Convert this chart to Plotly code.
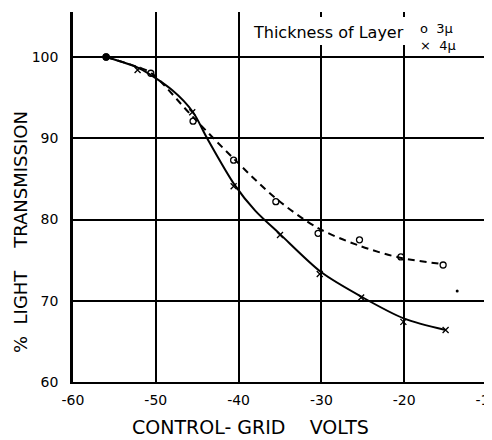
import plotly.graph_objects as go

x_3mu = [-56, -50.6, -45.5, -40.6, -35.5, -30.4, -25.4, -20.4, -15.3]
y_3mu = [100, 98.0, 92.1, 87.3, 82.2, 78.3, 77.5, 75.4, 74.4]

x_4mu = [-56, -52.2, -45.6, -40.6, -35.0, -30.2, -25.2, -20.1, -15.0]
y_4mu = [100, 98.4, 93.2, 84.1, 78.1, 73.3, 70.4, 67.4, 66.4]

# Hand-drawn fitted curves
curve_x_3mu = [-56, -52, -50.5, -45.5, -40.5, -35.5, -30.5, -25.5, -20.5, -15.3]
curve_y_3mu = [100, 98.7, 98.0, 92.6, 87.4, 82.6, 79.0, 76.8, 75.3, 74.5]

curve_x_4mu = [-56, -52, -48, -45.5, -43.8, -40.5, -38, -35, -30, -25, -20, -15]
curve_y_4mu = [100, 98.6, 95.9, 93.2, 90.0, 84.3, 81.1, 78.2, 73.5, 70.4, 67.8, 66.4]

x_stray = [-13.6]
y_stray = [71.2]

x_ticks = [-60, -50, -40, -30, -20, -10]
x_ticklabels = ["-60", "-50", "-40", "-30", "-20", "-10"]
y_ticks = [60, 70, 80, 90, 100]
y_ticklabels = ["60", "70", "80", "90", "100"]

FONT = "DejaVu Sans"

# plot area in viewport pixels (page body adds an 8px offset)
PX0, PX1, PY0, PY1 = 73, 487, 12, 382


def px(x):
    return (x - PX0) / (PX1 - PX0)


def py(y):
    return (PY1 - y) / (PY1 - PY0)


fig = go.Figure()

fig.add_trace(go.Scatter(
    x=curve_x_3mu, y=curve_y_3mu, mode="lines",
    line=dict(color="black", width=2, dash="7px,5px", shape="spline", smoothing=0.9),
    showlegend=False, hoverinfo="skip",
))
fig.add_trace(go.Scatter(
    x=curve_x_4mu, y=curve_y_4mu, mode="lines",
    line=dict(color="black", width=2, shape="spline", smoothing=0.8),
    showlegend=False, hoverinfo="skip",
))
fig.add_trace(go.Scatter(
    x=x_3mu, y=y_3mu, mode="markers",
    marker=dict(symbol=["circle"] + ["circle-open"] * (len(x_3mu) - 1), size=6,
                color="black", line=dict(color="black", width=1.3)),
    showlegend=False, hoverinfo="skip",
))
fig.add_trace(go.Scatter(
    x=x_4mu, y=y_4mu, mode="markers",
    marker=dict(symbol=["circle"] + ["x-thin"] * (len(x_4mu) - 1), size=6,
                color="black", line=dict(color="black", width=1.3)),
    showlegend=False, hoverinfo="skip",
))
fig.add_trace(go.Scatter(
    x=x_stray, y=y_stray, mode="markers",
    marker=dict(symbol="circle", size=3, color="black"),
    showlegend=False, hoverinfo="skip",
))

fig.update_layout(
    width=492, height=440,
    margin=dict(l=65, r=13, t=4, b=66, autoexpand=False),
    paper_bgcolor="white", plot_bgcolor="white",
    font=dict(family=FONT, size=14, color="black"),
    xaxis=dict(
        range=[-60, -10], tickvals=x_ticks, ticktext=x_ticklabels,
        showgrid=True, gridcolor="black", gridwidth=1.6,
        showline=True, linecolor="black", linewidth=2.2,
        ticks="", ticklabelstandoff=4, zeroline=False, automargin=False,
        ticklabeloverflow="allow",
        tickfont=dict(family=FONT, size=14, color="black"),
    ),
    yaxis=dict(
        range=[60, 105.54], tickvals=y_ticks, ticktext=y_ticklabels,
        showgrid=True, gridcolor="black", gridwidth=1.6,
        showline=True, linecolor="black", linewidth=2.5,
        ticks="", ticklabelstandoff=9, zeroline=False, automargin=False,
        tickfont=dict(family=FONT, size=14, color="black"),
    ),
    shapes=[
        dict(type="line", xref="x", yref="paper", x0=-10, x1=-10, y0=0, y1=1.0,
             line=dict(color="black", width=2.2)),
        dict(type="rect", xref="paper", yref="paper", layer="above",
             x0=px(250), x1=px(472), y0=py(45), y1=py(17),
             fillcolor="white", line=dict(width=0)),
    ],
    annotations=[
        dict(text="Thickness of Layer", xref="paper", yref="paper",
             x=px(251), y=py(32), xanchor="left", yanchor="middle",
             showarrow=False, font=dict(family=FONT, size=16, color="black")),
        dict(text="o  3μ", xref="paper", yref="paper",
             x=px(418), y=py(29), xanchor="left", yanchor="middle",
             showarrow=False, font=dict(family=FONT, size=13, color="black")),
        dict(text="×  4μ", xref="paper", yref="paper",
             x=px(418), y=py(46), xanchor="left", yanchor="middle",
             showarrow=False, font=dict(family=FONT, size=13, color="black")),
        dict(text="CONTROL- GRID    VOLTS", xref="paper", yref="paper",
             x=px(250), y=py(427), xanchor="center", yanchor="middle",
             showarrow=False, font=dict(family=FONT, size=19, color="black")),
        dict(text="%  LIGHT    TRANSMISSION", xref="paper", yref="paper",
             x=px(21), y=py(232), xanchor="center", yanchor="middle",
             textangle=-90, showarrow=False, font=dict(family=FONT, size=18, color="black")),
    ],
)

fig.write_html("out.html")
